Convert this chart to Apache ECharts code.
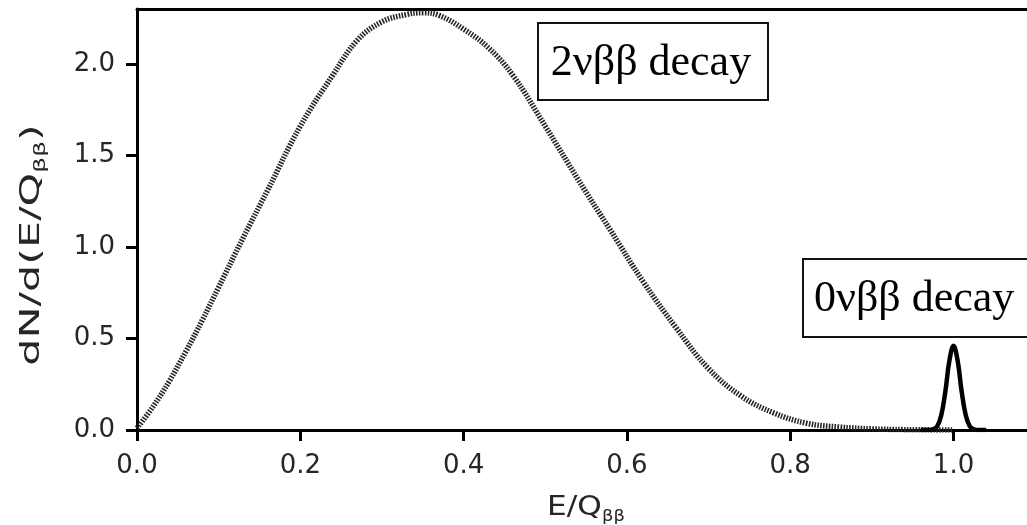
<!DOCTYPE html>
<html>
<head>
<meta charset="utf-8">
<script src="https://cdn.jsdelivr.net/npm/echarts@6/dist/echarts.min.js"></script>
<style>
  html, body { margin: 0; padding: 0; background: #fff; }
  #chart { width: 1027px; height: 525px; }
</style>
</head>
<body>
<div id="chart"></div>
<script>
// 2νββ continuous spectrum (E/Qββ, dN/d(E/Qββ))
const twoNuX = [0, 0.02, 0.04, 0.06, 0.08, 0.10, 0.13, 0.16, 0.20, 0.24, 0.27, 0.30, 0.33, 0.35, 0.37, 0.40, 0.43, 0.46, 0.50, 0.54, 0.58, 0.62, 0.66, 0.70, 0.74, 0.78, 0.82, 0.86, 0.90, 0.94, 1.00];
const twoNuY = [0.01, 0.13, 0.27, 0.43, 0.60, 0.78, 1.05, 1.31, 1.66, 1.94, 2.13, 2.23, 2.27, 2.28, 2.265, 2.19, 2.09, 1.94, 1.66, 1.37, 1.09, 0.81, 0.56, 0.335, 0.185, 0.093, 0.037, 0.016, 0.006, 0.002, 0.0];
// 0νββ peak at Qββ
const zeroNuX = [0.96, 0.97, 0.975, 0.98, 0.985, 0.99, 0.995, 1.00, 1.005, 1.01, 1.015, 1.02, 1.025, 1.03, 1.04];
const zeroNuY = [0, 0, 0.004, 0.02, 0.08, 0.21, 0.38, 0.46, 0.38, 0.21, 0.08, 0.02, 0.004, 0, 0];
// tick values
const xTicks = [0, 0.2, 0.4, 0.6, 0.8, 1.0];
const yTicks = [0, 0.5, 1.0, 1.5, 2.0];
const labels = ['2νββ decay', '0νββ decay'];

const chart = echarts.init(document.getElementById('chart'), null, { renderer: 'canvas' });
const tickFont = { fontFamily: 'DejaVu Sans', fontSize: 26, color: '#262626' };

const option = {
  animation: false,
  backgroundColor: '#fff',
  grid: { left: 137, right: 0, top: 9, bottom: 95 },
  xAxis: [{
    type: 'value', min: 0, max: 1.09, position: 'bottom',
    splitLine: { show: false },
    axisLine: { show: true, onZero: false, lineStyle: { color: '#000', width: 3 } },
    axisTick: { show: true, length: 11, lineStyle: { color: '#000', width: 3 }, customValues: xTicks },
    axisLabel: Object.assign({ margin: 23, customValues: xTicks, formatter: v => v.toFixed(1) }, tickFont)
  }, {
    type: 'value', min: 0, max: 1.09, position: 'top',
    splitLine: { show: false },
    axisLine: { show: true, onZero: false, lineStyle: { color: '#000', width: 3 } },
    axisTick: { show: false }, axisLabel: { show: false }
  }],
  yAxis: {
    type: 'value', min: 0, max: 2.3,
    splitLine: { show: false },
    axisLine: { show: true, onZero: false, lineStyle: { color: '#000', width: 3 } },
    axisTick: { show: true, length: 11, lineStyle: { color: '#000', width: 3 }, customValues: yTicks },
    axisLabel: Object.assign({ margin: 22, customValues: yTicks, formatter: v => v.toFixed(1) }, tickFont)
  },
  series: [{
    name: '2νββ', type: 'line', xAxisIndex: 0, smooth: 0.4,
    showSymbol: false, z: 2,
    lineStyle: { color: '#262626', width: 5.5, type: [1.6, 1.3] },
    data: twoNuX.map((x, i) => [x, twoNuY[i]])
  }, {
    name: '0νββ', type: 'line', xAxisIndex: 0, smooth: 0.4,
    showSymbol: false, z: 3,
    lineStyle: { color: '#000', width: 4.5 },
    data: zeroNuX.map((x, i) => [x, zeroNuY[i]])
  }],
  graphic: [
    { type: 'rect', shape: { x: 538, y: 23, width: 230, height: 77 }, style: { fill: '#fff', stroke: '#111', lineWidth: 2 }, z: 10 },
    { type: 'text', x: 651, y: 63, z: 11, style: { text: labels[0], font: '44px "Liberation Serif"', fill: '#000', textAlign: 'center', textVerticalAlign: 'middle' } },
    { type: 'rect', shape: { x: 803, y: 259, width: 240, height: 78 }, style: { fill: '#fff', stroke: '#111', lineWidth: 2 }, z: 10 },
    { type: 'text', x: 814, y: 299, z: 11, style: { text: labels[1], font: '44px "Liberation Serif"', fill: '#000', textAlign: 'left', textVerticalAlign: 'middle' } },
    { type: 'text', x: 32, y: 245, rotation: Math.PI / 2, scaleX: 1.65, z: 11,
      style: { text: '{a|dN/d(E/Q}{s|ββ}{a|)}', textAlign: 'center', textVerticalAlign: 'middle',
        rich: { a: { fontFamily: 'DejaVu Sans', fontSize: 26, fill: '#262626', lineHeight: 34, verticalAlign: 'bottom', padding: [0, 0, 4, 0] },
                s: { fontFamily: 'DejaVu Sans', fontSize: 15, fill: '#262626', lineHeight: 34, verticalAlign: 'bottom' } } } },
    { type: 'text', x: 586, y: 508, scaleX: 1.2, z: 11,
      style: { text: '{a|E/Q}{s|ββ}', textAlign: 'center', textVerticalAlign: 'middle',
        rich: { a: { fontFamily: 'DejaVu Sans', fontSize: 26, fill: '#262626', lineHeight: 34, verticalAlign: 'bottom', padding: [0, 0, 4, 0] },
                s: { fontFamily: 'DejaVu Sans', fontSize: 15, fill: '#262626', lineHeight: 34, verticalAlign: 'bottom' } } } }
  ]
};
chart.setOption(option);
</script>
</body>
</html>
